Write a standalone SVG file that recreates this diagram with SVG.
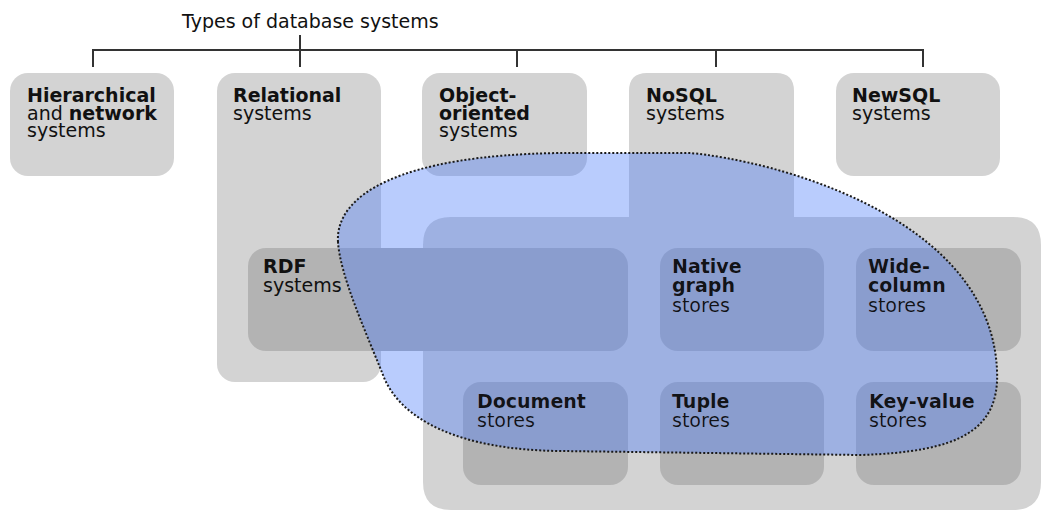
<svg xmlns="http://www.w3.org/2000/svg" width="1041" height="511" viewBox="0 0 1041 511">
<style>
.box{fill:#d3d3d3}
.inner{fill:#b3b3b3}
text{font-family:"DejaVu Sans","Bitstream Vera Sans",sans-serif;font-size:19px;fill:#111}
.b{font-weight:bold}
.conn{stroke:#333;stroke-width:2;fill:none}
.blob{fill:rgb(70,120,250);fill-opacity:0.38}
.outline{fill:none;stroke:#1a1a1a;stroke-width:2;stroke-dasharray:2 2}
</style>
<defs>
<path id="blobShape" d="M 338,242 C 335,195 400,155 560,153 L 690,153 C 770,160 990,215 997,370 C 1000,430 960,452 860,455 L 560,451 C 460,450 400,420 383,375 C 365,330 340,275 338,242 Z"/>
<mask id="blobMask" maskUnits="userSpaceOnUse" x="0" y="0" width="1041" height="511">
<rect x="0" y="0" width="1041" height="511" fill="#fff"/>
<use href="#t-rel"/><use href="#t-obj"/><use href="#t-nosql"/><use href="#t-rdf"/>
<use href="#t-native"/><use href="#t-wide"/><use href="#t-doc"/><use href="#t-tuple"/><use href="#t-kv"/>
</mask>
</defs>
<rect width="1041" height="511" fill="#fff"/>
<text id="title" x="182" y="28">Types of database systems</text>
<g id="connectors">
<path class="conn" d="M300,35 V67 M93,67 V50 H923 V67 M517,50 V67 M716,50 V67"/>
</g>
<g id="node-hierarchical">
<rect class="box" x="10" y="73" width="164" height="103" rx="18"/>
<text id="t-hier" x="27" y="102"><tspan class="b">Hierarchical</tspan><tspan x="27" dy="17.6">and </tspan><tspan class="b">network</tspan><tspan x="27" dy="17.6">systems</tspan></text>
</g>
<g id="node-relational">
<rect class="box" x="217" y="73" width="164" height="309" rx="18"/>
<text id="t-rel" x="233" y="102"><tspan class="b">Relational</tspan><tspan x="233" dy="17.6">systems</tspan></text>
</g>
<g id="node-object">
<rect class="box" x="422" y="73" width="165" height="103" rx="18"/>
<text id="t-obj" x="439" y="102"><tspan class="b">Object-</tspan><tspan class="b" x="439" dy="17.6">oriented</tspan><tspan x="439" dy="17.6">systems</tspan></text>
</g>
<g id="node-newsql">
<rect class="box" x="836" y="73" width="164" height="103" rx="18"/>
<text id="t-newsql" x="852" y="102"><tspan class="b">NewSQL</tspan><tspan x="852" dy="17.6">systems</tspan></text>
</g>
<g id="node-nosql">
<path class="box" d="M647,73 H776 Q794,73 794,91 V217 H1013 Q1041,217 1041,245 V482 Q1041,510 1013,510 H451 Q423,510 423,482 V245 Q423,217 451,217 H629 V91 Q629,73 647,73 Z"/>
<text id="t-nosql" x="646" y="102"><tspan class="b">NoSQL</tspan><tspan x="646" dy="17.6">systems</tspan></text>
</g>
<g id="node-rdf">
<rect class="inner" x="248" y="248" width="380" height="103" rx="18"/>
<text id="t-rdf" x="263" y="273"><tspan class="b">RDF</tspan><tspan x="263" dy="19.3">systems</tspan></text>
</g>
<g id="node-native">
<rect class="inner" x="660" y="248" width="164" height="103" rx="18"/>
<text id="t-native" x="672" y="273"><tspan class="b">Native</tspan><tspan class="b" x="672" dy="19.3">graph</tspan><tspan x="672" dy="19.3">stores</tspan></text>
</g>
<g id="node-wide">
<rect class="inner" x="856" y="248" width="165" height="103" rx="18"/>
<text id="t-wide" x="868" y="273"><tspan class="b">Wide-</tspan><tspan class="b" x="868" dy="19.3">column</tspan><tspan x="868" dy="19.3">stores</tspan></text>
</g>
<g id="node-document">
<rect class="inner" x="463" y="382" width="165" height="103" rx="18"/>
<text id="t-doc" x="477" y="408"><tspan class="b">Document</tspan><tspan x="477" dy="19.3">stores</tspan></text>
</g>
<g id="node-tuple">
<rect class="inner" x="660" y="382" width="164" height="103" rx="18"/>
<text id="t-tuple" x="672" y="408"><tspan class="b">Tuple</tspan><tspan x="672" dy="19.3">stores</tspan></text>
</g>
<g id="node-keyvalue">
<rect class="inner" x="856" y="382" width="165" height="103" rx="18"/>
<text id="t-kv" x="869" y="408"><tspan class="b">Key-value</tspan><tspan x="869" dy="19.3">stores</tspan></text>
</g>
<g id="blob">
<use href="#blobShape" class="blob" mask="url(#blobMask)"/>
<use href="#blobShape" class="outline"/>
</g>
</svg>
